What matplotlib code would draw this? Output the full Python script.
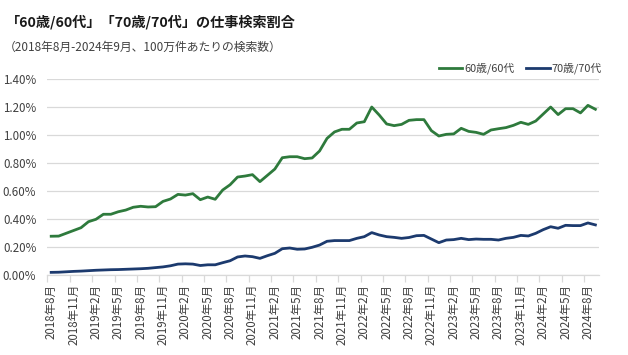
import matplotlib
matplotlib.use("Agg")
import matplotlib.pyplot as plt
from matplotlib.ticker import FuncFormatter, FixedLocator

plt.rcParams['font.family'] = ['Noto Sans CJK JP', 'DejaVu Sans']

# months: 2018-08 .. 2024-09
months = []
y, m = 2018, 8
while (y, m) <= (2024, 9):
    months.append(f"{y}年{m}月")
    m += 1
    if m > 12:
        m = 1
        y += 1

series_60 = [0.279, 0.280, 0.300, 0.320, 0.340, 0.383, 0.400, 0.436, 0.436, 0.454,
             0.466, 0.486, 0.493, 0.488, 0.490, 0.528, 0.545, 0.578, 0.573, 0.583,
             0.540, 0.559, 0.543, 0.609, 0.647, 0.702, 0.709, 0.719, 0.669, 0.714,
             0.759, 0.840, 0.847, 0.847, 0.833, 0.838, 0.888, 0.978, 1.024, 1.043,
             1.043, 1.088, 1.097, 1.202, 1.145, 1.081, 1.069, 1.078, 1.107, 1.112,
             1.112, 1.033, 0.995, 1.007, 1.010, 1.050, 1.028, 1.021, 1.007, 1.038,
             1.047, 1.055, 1.071, 1.093, 1.078, 1.102, 1.152, 1.202, 1.148, 1.190,
             1.190, 1.160, 1.214, 1.186]

series_70 = [0.021, 0.022, 0.025, 0.028, 0.030, 0.033, 0.036, 0.038, 0.040, 0.041,
             0.043, 0.045, 0.047, 0.050, 0.055, 0.060, 0.068, 0.080, 0.082, 0.080,
             0.070, 0.075, 0.075, 0.090, 0.104, 0.131, 0.138, 0.133, 0.121, 0.140,
             0.157, 0.190, 0.195, 0.186, 0.188, 0.200, 0.216, 0.243, 0.248, 0.248,
             0.248, 0.264, 0.276, 0.305, 0.288, 0.276, 0.271, 0.264, 0.270, 0.283,
             0.285, 0.259, 0.233, 0.252, 0.255, 0.264, 0.255, 0.259, 0.257, 0.257,
             0.252, 0.264, 0.271, 0.285, 0.281, 0.300, 0.326, 0.347, 0.336, 0.357,
             0.355, 0.355, 0.374, 0.360]

label_60 = "60歳/60代"
label_70 = "70歳/70代"
title = "「60歳/60代」「70歳/70代」の仕事検索割合"
subtitle = "（2018年8月-2024年9月、100万件あたりの検索数）"

green = "#2e7a3c"
navy = "#1c3a6e"
tick_color = "#404040"
grid_color = "#d9d9d9"

fig = plt.figure(figsize=(6.28, 3.55), dpi=100)
ax = fig.add_axes([0.0756, 0.2245, 0.954 - 0.0756, 0.7766 - 0.2245])

x = list(range(len(months)))
ax.plot(x, series_60, color=green, lw=2.0, label=label_60, solid_joinstyle='round')
ax.plot(x, series_70, color=navy, lw=2.0, label=label_70, solid_joinstyle='round')

ax.set_xlim(-0.5, len(months) - 0.5)
ax.set_ylim(0, 1.4)
ax.set_yticks([0, 0.2, 0.4, 0.6, 0.8, 1.0, 1.2, 1.4])
ax.yaxis.set_major_formatter(FuncFormatter(lambda v, p: f"{v:.2f}%"))
ax.grid(axis='y', color=grid_color, lw=0.9)
ax.set_axisbelow(True)

major = list(range(0, len(months), 3))
ax.xaxis.set_major_locator(FixedLocator(major))
ax.set_xticklabels([months[i] for i in major], rotation=90, fontsize=8.3, color=tick_color)
ax.xaxis.set_minor_locator(FixedLocator([i - 0.5 for i in major]))
ax.tick_params(axis='x', which='major', length=0, pad=6)
ax.tick_params(axis='x', which='minor', length=5, color=grid_color, width=0.9)
ax.tick_params(axis='y', length=0, labelsize=8.3, labelcolor=tick_color, pad=8)

for s in ['top', 'right', 'left']:
    ax.spines[s].set_visible(False)
ax.spines['bottom'].set_color(grid_color)
ax.spines['bottom'].set_linewidth(0.9)

leg = ax.legend(loc='lower right', bbox_to_anchor=(1.015, 1.0), ncol=2, frameon=False,
                fontsize=7.8, handlelength=2.2, handletextpad=0.2, columnspacing=1.0,
                borderaxespad=0.1)
for t in leg.get_texts():
    t.set_color(tick_color)

fig.text(0.010, 0.938, title, fontsize=10.2, fontweight='bold', color='#1a1a1a', va='center', ha='left')
fig.text(0.006, 0.866, subtitle, fontsize=8.5, color='#404040', va='center', ha='left')

fig.savefig("out.png", dpi=100)
